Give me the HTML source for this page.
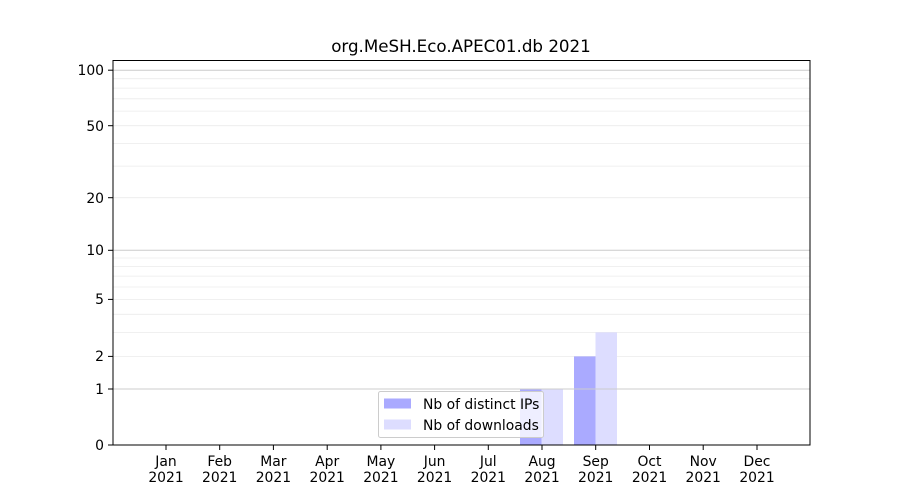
<!DOCTYPE html>
<html><head><meta charset="utf-8"><style>body{margin:0;background:#fff}svg{display:block}</style></head><body>
<svg width="900" height="500" xmlns="http://www.w3.org/2000/svg" font-family="DejaVu Sans, Liberation Sans, sans-serif" font-size="13.9">
<rect width="900" height="500" fill="#fff"/>
<g stroke="#ebebeb" stroke-width="0.8">
<line x1="113" x2="810" y1="356.4" y2="356.4"/>
<line x1="113" x2="810" y1="332.4" y2="332.4"/>
<line x1="113" x2="810" y1="314.3" y2="314.3"/>
<line x1="113" x2="810" y1="299.4" y2="299.4"/>
<line x1="113" x2="810" y1="287.0" y2="287.0"/>
<line x1="113" x2="810" y1="276.1" y2="276.1"/>
<line x1="113" x2="810" y1="266.6" y2="266.6"/>
<line x1="113" x2="810" y1="258.0" y2="258.0"/>
<line x1="113" x2="810" y1="197.7" y2="197.7"/>
<line x1="113" x2="810" y1="166.1" y2="166.1"/>
<line x1="113" x2="810" y1="143.4" y2="143.4"/>
<line x1="113" x2="810" y1="125.7" y2="125.7"/>
<line x1="113" x2="810" y1="111.1" y2="111.1"/>
<line x1="113" x2="810" y1="98.8" y2="98.8"/>
<line x1="113" x2="810" y1="88.1" y2="88.1"/>
<line x1="113" x2="810" y1="78.7" y2="78.7"/>
</g>
<g fill="#aaaaff"><rect x="520" y="389" width="21.5" height="56"/><rect x="574" y="356.4" width="21.5" height="88.6"/></g>
<g fill="#ddddff"><rect x="541.5" y="389" width="21.5" height="56"/><rect x="595.5" y="332.4" width="21.5" height="112.6"/></g>
<g stroke="#cccccc" stroke-width="1">
<line x1="113" x2="810" y1="389" y2="389"/>
<line x1="113" x2="810" y1="250.3" y2="250.3"/>
<line x1="113" x2="810" y1="70.2" y2="70.2"/>
</g>
<rect x="113" y="60.5" width="697" height="384.5" fill="none" stroke="#000" stroke-width="1"/>
<text x="461" y="52" font-size="16.7" text-anchor="middle">org.MeSH.Eco.APEC01.db 2021</text>
<g stroke="#000"><line x1="108" x2="113" y1="445" y2="445"/><line x1="108" x2="113" y1="389" y2="389"/><line x1="108" x2="113" y1="356.4" y2="356.4"/><line x1="108" x2="113" y1="299.4" y2="299.4"/><line x1="108" x2="113" y1="250.3" y2="250.3"/><line x1="108" x2="113" y1="197.7" y2="197.7"/><line x1="108" x2="113" y1="125.7" y2="125.7"/><line x1="108" x2="113" y1="70.2" y2="70.2"/></g>
<g text-anchor="end"><text x="104" y="450">0</text><text x="104" y="394">1</text><text x="104" y="361">2</text><text x="104" y="304">5</text><text x="104" y="255">10</text><text x="104" y="203">20</text><text x="104" y="131">50</text><text x="104" y="75">100</text></g>
<g stroke="#000">
<line x1="166" x2="166" y1="445" y2="450"/><line x1="219.7" x2="219.7" y1="445" y2="450"/><line x1="273.4" x2="273.4" y1="445" y2="450"/><line x1="327.2" x2="327.2" y1="445" y2="450"/><line x1="380.9" x2="380.9" y1="445" y2="450"/><line x1="434.6" x2="434.6" y1="445" y2="450"/><line x1="488.3" x2="488.3" y1="445" y2="450"/><line x1="542" x2="542" y1="445" y2="450"/><line x1="595.7" x2="595.7" y1="445" y2="450"/><line x1="649.5" x2="649.5" y1="445" y2="450"/><line x1="703.2" x2="703.2" y1="445" y2="450"/><line x1="757" x2="757" y1="445" y2="450"/>
</g>
<g text-anchor="middle">
<text x="166" y="466">Jan</text><text x="166" y="482">2021</text>
<text x="219.7" y="466">Feb</text><text x="219.7" y="482">2021</text>
<text x="273.4" y="466">Mar</text><text x="273.4" y="482">2021</text>
<text x="327.2" y="466">Apr</text><text x="327.2" y="482">2021</text>
<text x="380.9" y="466">May</text><text x="380.9" y="482">2021</text>
<text x="434.6" y="466">Jun</text><text x="434.6" y="482">2021</text>
<text x="488.3" y="466">Jul</text><text x="488.3" y="482">2021</text>
<text x="542" y="466">Aug</text><text x="542" y="482">2021</text>
<text x="595.7" y="466">Sep</text><text x="595.7" y="482">2021</text>
<text x="649.5" y="466">Oct</text><text x="649.5" y="482">2021</text>
<text x="703.2" y="466">Nov</text><text x="703.2" y="482">2021</text>
<text x="757" y="466">Dec</text><text x="757" y="482">2021</text>
</g>
<rect x="378.5" y="391.5" width="165" height="46" rx="2" fill="#fff" fill-opacity="0.8" stroke="#cccccc"/>
<rect x="384" y="398.5" width="27" height="10" fill="#aaaaff"/>
<rect x="384" y="419.5" width="27" height="10" fill="#ddddff"/>
<text x="423" y="409">Nb of distinct IPs</text>
<text x="423" y="430">Nb of downloads</text>
</svg>
</body></html>
